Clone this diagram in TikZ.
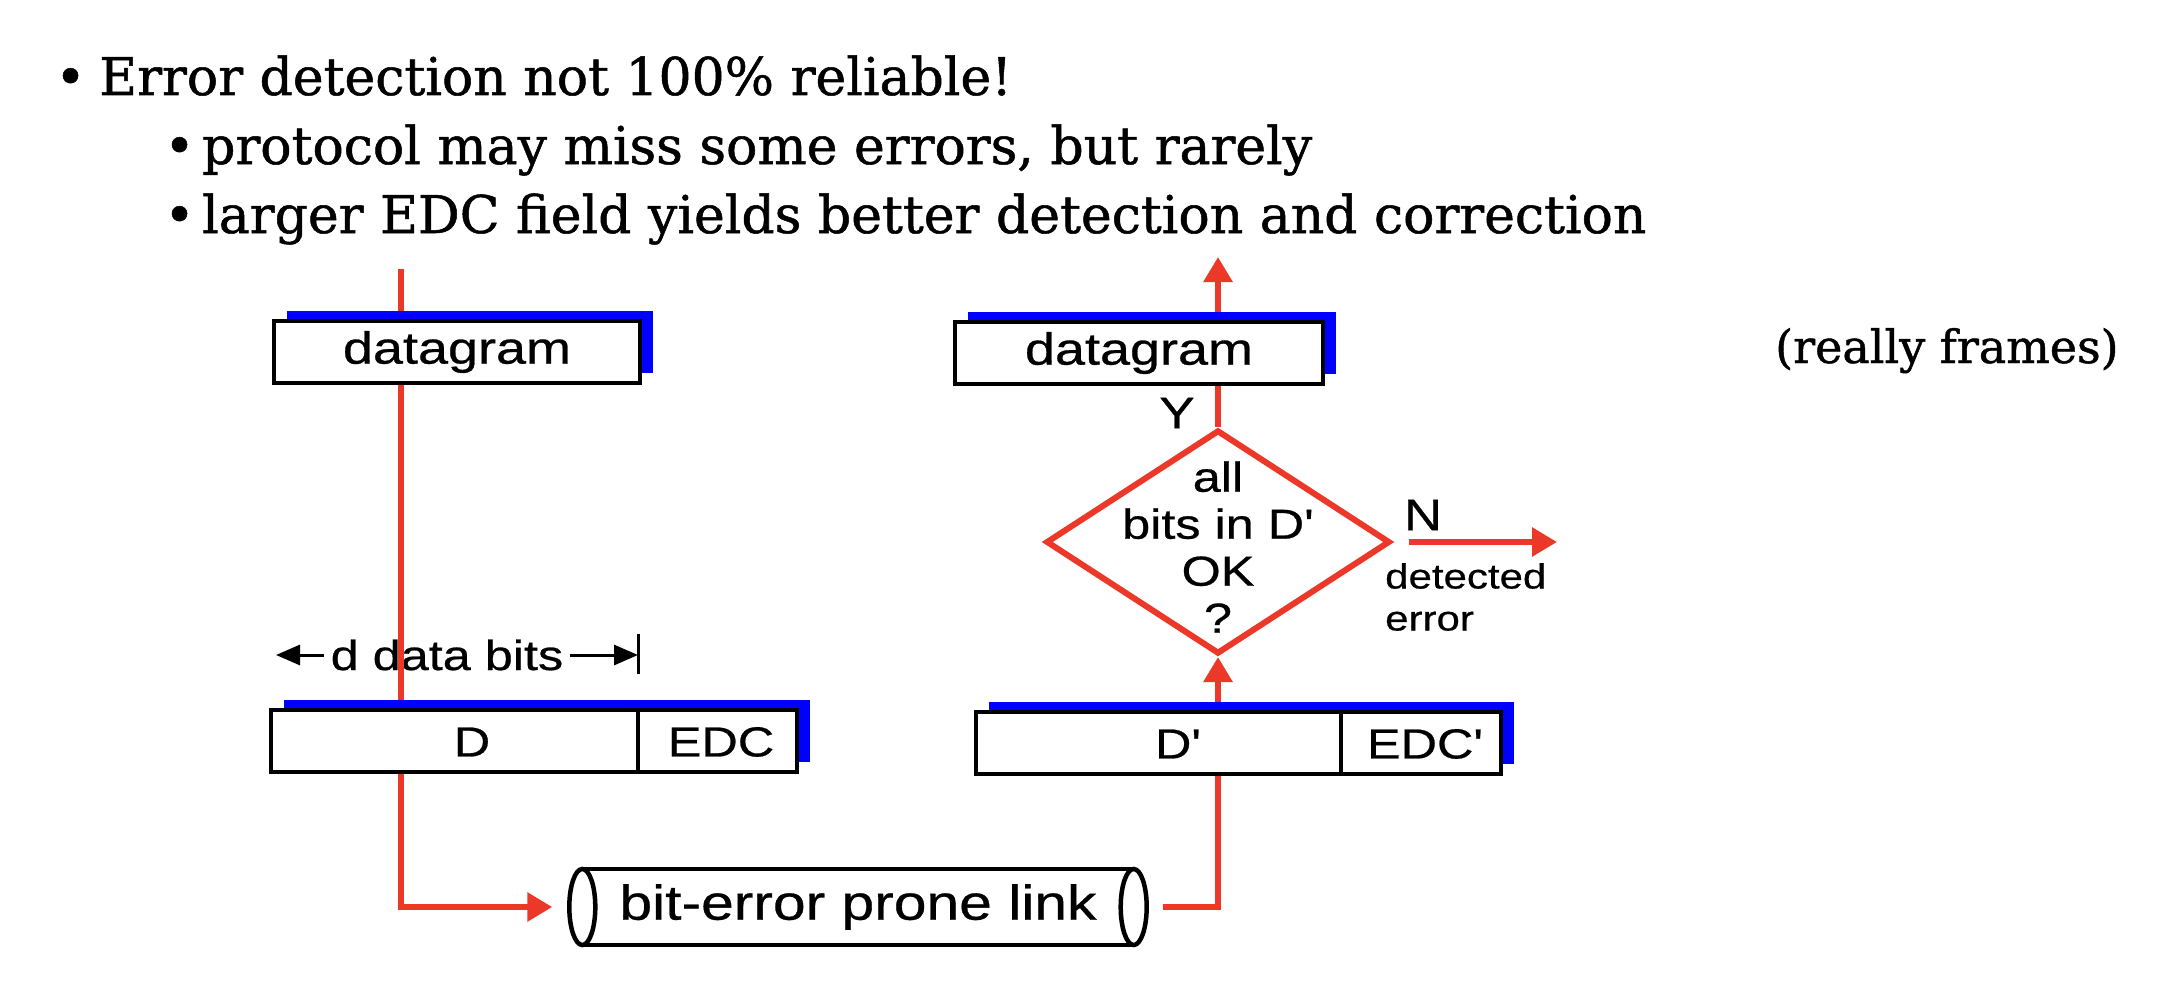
\documentclass[tikz,border=0pt]{standalone}
\usepackage{fontspec}
\setmainfont{DejaVu Serif}[FakeBold=1]
\newfontfamily\diafont{Liberation Sans}[FakeStretch=1.2, FakeBold=0.6]
\usetikzlibrary{arrows.meta,shapes.geometric,shadows,backgrounds}
\definecolor{linkred}{RGB}{235,56,40}
\definecolor{shadeblue}{RGB}{0,0,255}

\begin{document}
\begin{tikzpicture}[x=1pt,y=-1pt,
	framebox/.style={draw, line width=4.5pt, fill=white, inner sep=0pt, minimum height=62pt,
		drop shadow={shadow xshift=13pt, shadow yshift=10pt, fill=shadeblue, opacity=1},
		font=\diafont\fontsize{45}{50}\selectfont},
	lbl/.style={inner sep=0pt, font=\diafont\fontsize{42}{47}\selectfont},
	flow/.style={draw=linkred, line width=6pt},
	tip/.style={-{Triangle[width=28pt,length=25pt]}},
	bullets/.style={anchor=base west, inner sep=0pt, font=\fontsize{52}{60}\selectfont}]
	\useasboundingbox (0,0) rectangle (2164,990);
	% bullet points
	\node[bullets] (head) at (55,95) {\makebox[44pt][l]{•}Error detection not 100\% reliable!};
	\node[bullets] (point1) at (164,164) {\makebox[38pt][l]{•}protocol may miss some errors, but rarely};
	\node[bullets] (point2) at (164,233) {\makebox[38pt][l]{•}larger EDC field yields better detection and correction};
	\node[bullets, font=\fontsize{46}{54}\selectfont] (frames) at (1775,363) {(really frames)};
	% sender
	\node[framebox, minimum width=366pt] (dgsend) at (457,352) {datagram};
	\node[framebox, minimum width=526pt] (sent) at (534,741) {};
	\draw[line width=4.5pt] ([xshift=369pt]sent.north west) -- ([xshift=369pt]sent.south west);
	\node[lbl] (dsent) at (472,742) {D};
	\node[lbl] (edcsent) at (721,742) {EDC};
	% receiver
	\node[framebox, minimum width=368pt] (dgrecv) at (1139,353) {datagram};
	\node[framebox, minimum width=525pt] (rcvd) at (1238.5,743) {};
	\draw[line width=4.5pt] ([xshift=367pt]rcvd.north west) -- ([xshift=367pt]rcvd.south west);
	\node[lbl] (drcvd) at (1178,744) {D'};
	\node[lbl] (edcrcvd) at (1425,744) {EDC'};
	\node[diamond, draw=linkred, line width=6pt, fill=white, inner sep=0pt,
		minimum width=344pt, minimum height=224pt] (check) at (1218,542) {};
	\node[lbl, align=center] (checktext) at (1218,547) {all\\bits in D'\\OK\\?};
	\node[lbl, font=\diafont\fontsize{44}{50}\selectfont] (yes) at (1177,413) {Y};
	\node[lbl, font=\diafont\fontsize{44}{50}\selectfont] (no) at (1423,515) {N};
	\node[lbl, font=\diafont\fontsize{35}{42}\selectfont, align=left, anchor=west] (detected) at (1385,597) {detected\\error};
	% link
	\node[lbl, font=\diafont\fontsize{49}{55}\selectfont, minimum width=551pt, minimum height=76pt] (link) at (858,907) {bit-error prone link};
	\draw[line width=4.5pt] (link.north west) -- (link.north east) (link.south west) -- (link.south east);
	\draw[line width=4.5pt] (link.west) ellipse [x radius=13pt, y radius=38pt];
	\draw[line width=4.5pt] (link.east) ellipse [x radius=13pt, y radius=38pt];
	\begin{scope}[on background layer]
		\node[lbl] (dimtext) at (447,655) {d data bits};
		\coordinate (dimleft) at (276,655);
		\coordinate (dimright) at (638,655);
		\draw[line width=3pt, -{Triangle[width=20pt,length=24pt]}] ([xshift=-7pt]dimtext.west) -- (dimleft);
		\draw[line width=3pt, -{Triangle[width=20pt,length=24pt]}] ([xshift=7pt]dimtext.east) -- (dimright);
		\draw[line width=3pt] (dimright) ++(0,-21) -- ++(0,40);
		% red flow
		\coordinate (src) at (401,269);
		\coordinate (out) at (1218,257);
		\coordinate (err) at (1557,542);
		\draw[flow, tip, shorten >=30pt] (src) |- (link.west);
		\draw[flow, tip, shorten <=29pt] (link.east) -| (check.south);
		\draw[flow, tip] (check.north) -- (out);
		\draw[flow, tip] ([xshift=16pt]check.east) -- (err);
	\end{scope}
\end{tikzpicture}
\end{document}
